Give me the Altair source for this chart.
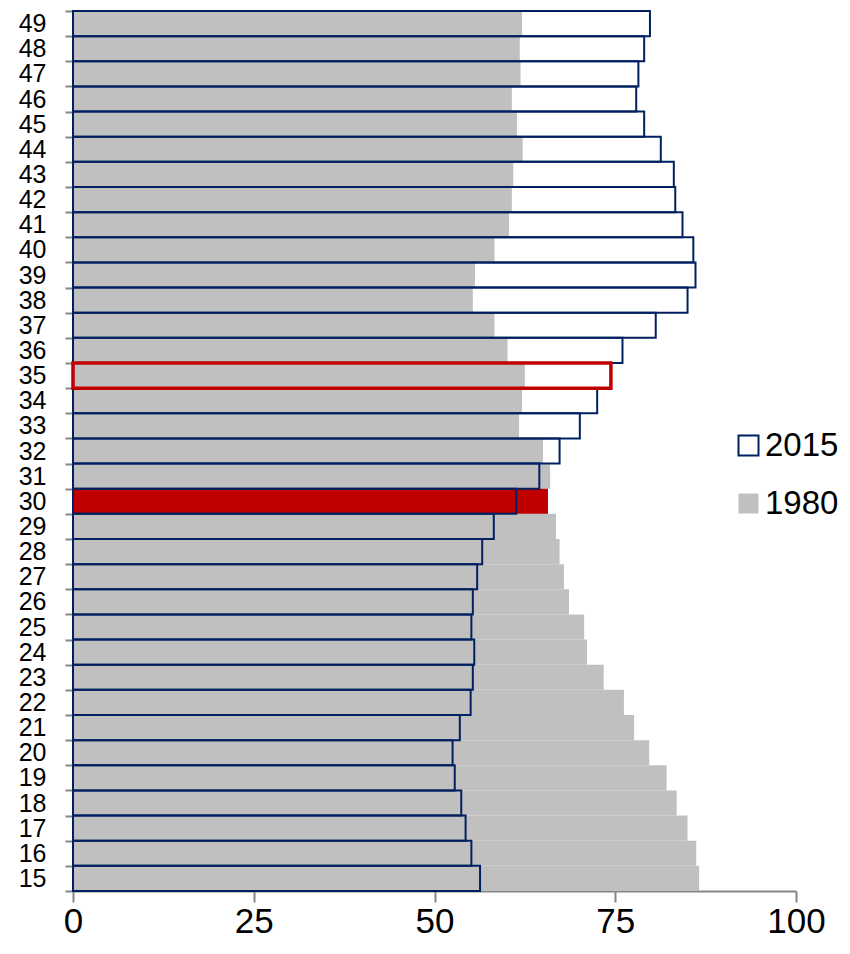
import altair as alt
import pandas as pd

# ---- data ----
ages = list(range(15, 50))
v1980 = [86.6, 86.2, 85.0, 83.5, 82.1, 79.7, 77.6, 76.2, 73.4, 71.1,
         70.7, 68.6, 67.9, 67.3, 66.8, 65.7, 66.0, 65.0, 61.7, 62.1,
         62.5, 60.1, 58.3, 55.3, 55.6, 58.3, 60.3, 60.7, 60.9, 62.2,
         61.4, 60.7, 61.9, 61.8, 62.1]
v2015 = [56.3, 55.1, 54.3, 53.7, 52.8, 52.5, 53.5, 55.0, 55.3, 55.5,
         55.1, 55.3, 55.9, 56.6, 58.2, 61.3, 64.5, 67.3, 70.1, 72.5,
         74.4, 76.0, 80.6, 85.0, 86.1, 85.8, 84.3, 83.3, 83.1, 81.3,
         79.0, 77.9, 78.2, 79.0, 79.8]
series_names = ["2015", "1980"]
x_ticks = [0, 25, 50, 75, 100]
hl_1980_age = 30
hl_2015_age = 35

NAVY = "#002060"
GRAY = "#C0C0C0"
RED = "#C00000"
AXIS_GRAY = "#868686"
FONT = "Liberation Sans"

df = pd.DataFrame({
    "age": ages + ages,
    "value": v1980 + v2015,
    "series": ["1980"] * len(ages) + ["2015"] * len(ages),
})

y_enc = alt.Y(
    "age:O",
    sort="descending",
    scale=alt.Scale(paddingInner=0, paddingOuter=0),
    axis=alt.Axis(
        title=None, tickBand="extent", tickSize=8, tickWidth=2,
        tickColor=AXIS_GRAY, domainColor=AXIS_GRAY, domainWidth=2,
        labelFont=FONT, labelFontSize=25, labelColor="black",
        labelPadding=19,
    ),
)
x_enc = alt.X(
    "value:Q",
    scale=alt.Scale(domain=[0, 100], nice=False),
    axis=alt.Axis(
        title=None, values=x_ticks, grid=False, tickSize=11, tickWidth=2,
        tickColor=AXIS_GRAY, domainColor=AXIS_GRAY, domainWidth=2,
        labelFont=FONT, labelFontSize=35, labelColor="black",
        labelPadding=2, labelFlush=False,
    ),
)

legend = alt.Legend(
    title=None, orient="none", legendX=659, legendY=418,
    symbolType="square", symbolSize=400, symbolStrokeWidth=2,
    labelFont=FONT, labelFontSize=33, labelColor="black",
    labelOffset=0, rowPadding=24, padding=0,
)

base = alt.Chart(df)

l1980 = base.transform_filter(alt.datum.series == "1980").mark_bar().encode(
    x=x_enc, y=y_enc,
    fill=alt.Fill("series:N", scale=alt.Scale(domain=series_names, range=["white", GRAY]), legend=legend),
)
l1980_hl = base.transform_filter(
    (alt.datum.series == "1980") & (alt.datum.age == hl_1980_age)
).mark_bar(fill=RED).encode(x=x_enc, y=y_enc)

l2015 = base.transform_filter(alt.datum.series == "2015").mark_bar(
    fill="transparent", strokeWidth=2
).encode(
    x=x_enc, y=y_enc,
    stroke=alt.Stroke("series:N", scale=alt.Scale(domain=series_names, range=[NAVY, "transparent"]), legend=legend),
)
l2015_hl = base.transform_filter(
    (alt.datum.series == "2015") & (alt.datum.age == hl_2015_age)
).mark_bar(fill="transparent", stroke=RED, strokeWidth=3.5).encode(x=x_enc, y=y_enc)

chart = alt.layer(l1980, l1980_hl, l2015, l2015_hl).properties(
    width=723, height=880,
    padding={"left": 65, "top": 3, "right": 46, "bottom": 47},
    autosize=alt.AutoSizeParams(type="none"),
).configure_view(stroke=None)

chart.save("out.html", embed_options={"renderer": "svg", "actions": False})
